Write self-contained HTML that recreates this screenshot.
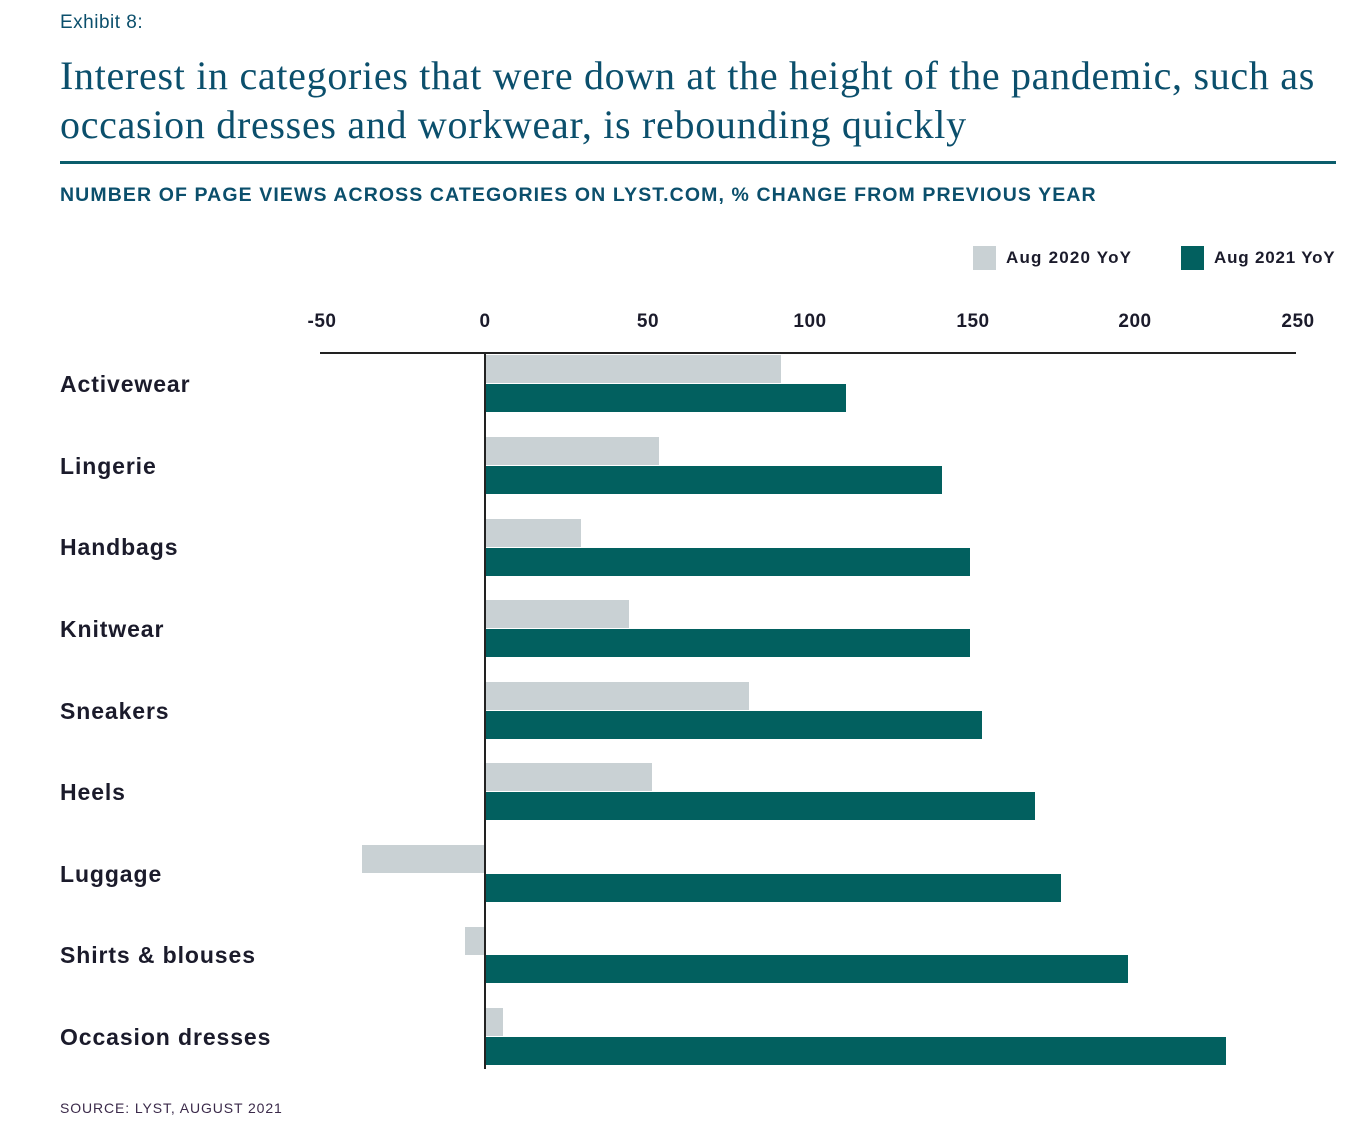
<!DOCTYPE html>
<html><head><meta charset="utf-8"><style>
body{margin:0;background:#fff;width:1354px;height:1148px;overflow:hidden;position:relative;font-family:"Liberation Sans",sans-serif}
.a{position:absolute;white-space:nowrap}
.lab{position:absolute;left:60px;font-size:23px;font-weight:bold;color:#1b1b2b;letter-spacing:0.9px}
.t{position:absolute;top:311px;font-size:19px;font-weight:bold;color:#1b1b2b;transform:translateX(-50%);letter-spacing:0.5px}
.g{position:absolute;background:#c9d1d4;height:28px}
.k{position:absolute;background:#02605f;height:28px}
</style></head><body>
<div class="a" style="left:60px;top:12px;font-size:19px;color:#0b4f6c;letter-spacing:0.5px">Exhibit 8:</div>
<div class="a" style="left:60px;top:51px;font-family:'Liberation Serif',serif;font-size:40px;letter-spacing:0.7px;color:#0b4f6c;line-height:49px">Interest in categories that were down at the height of the pandemic, such as<br>occasion dresses and workwear, is rebounding quickly</div>
<div class="a" style="left:60px;top:161px;width:1276px;height:3px;background:#0b5d6c"></div>
<div class="a" style="left:60px;top:184px;font-size:19.5px;font-weight:bold;color:#0b4f6c;letter-spacing:1.1px">NUMBER OF PAGE VIEWS ACROSS CATEGORIES ON LYST.COM, % CHANGE FROM PREVIOUS YEAR</div>
<div class="a" style="left:973px;top:246px;width:23px;height:24px;background:#c9d1d4"></div>
<div class="a" style="left:1006px;top:248px;font-size:17px;font-weight:bold;color:#1b1b2b;letter-spacing:1.2px">Aug 2020 YoY</div>
<div class="a" style="left:1181px;top:246px;width:23px;height:24px;background:#02605f"></div>
<div class="a" style="left:1214px;top:248px;font-size:17px;font-weight:bold;color:#1b1b2b;letter-spacing:0.8px">Aug 2021 YoY</div>
<div class="t" style="left:322px">-50</div><div class="t" style="left:485px">0</div><div class="t" style="left:648px">50</div><div class="t" style="left:810px">100</div><div class="t" style="left:973px">150</div><div class="t" style="left:1135px">200</div><div class="t" style="left:1298px">250</div>
<div class="a" style="left:320px;top:352px;width:976px;height:2px;background:#222"></div>
<div class="lab" style="top:371px">Activewear</div>
<div class="lab" style="top:453px">Lingerie</div>
<div class="lab" style="top:534px">Handbags</div>
<div class="lab" style="top:616px">Knitwear</div>
<div class="lab" style="top:698px">Sneakers</div>
<div class="lab" style="top:779px">Heels</div>
<div class="lab" style="top:861px">Luggage</div>
<div class="lab" style="top:942px">Shirts &amp; blouses</div>
<div class="lab" style="top:1024px">Occasion dresses</div>
<div class="g" style="left:486px;width:295px;top:355px"></div><div class="k" style="left:486px;width:360px;top:384px"></div>
<div class="g" style="left:486px;width:173px;top:437px"></div><div class="k" style="left:486px;width:456px;top:466px"></div>
<div class="g" style="left:486px;width:95px;top:519px"></div><div class="k" style="left:486px;width:484px;top:548px"></div>
<div class="g" style="left:486px;width:143px;top:600px"></div><div class="k" style="left:486px;width:484px;top:629px"></div>
<div class="g" style="left:486px;width:263px;top:682px"></div><div class="k" style="left:486px;width:496px;top:711px"></div>
<div class="g" style="left:486px;width:166px;top:763px"></div><div class="k" style="left:486px;width:549px;top:792px"></div>
<div class="g" style="left:362px;width:122px;top:845px"></div><div class="k" style="left:486px;width:575px;top:874px"></div>
<div class="g" style="left:465px;width:19px;top:927px"></div><div class="k" style="left:486px;width:642px;top:955px"></div>
<div class="g" style="left:486px;width:17px;top:1008px"></div><div class="k" style="left:486px;width:740px;top:1037px"></div>
<div class="a" style="left:484px;top:353px;width:2px;height:716px;background:#222"></div>
<div class="a" style="left:60px;top:1100px;font-size:14px;color:#3b2a4a;letter-spacing:0.9px">SOURCE: LYST, AUGUST 2021</div>
</body></html>
